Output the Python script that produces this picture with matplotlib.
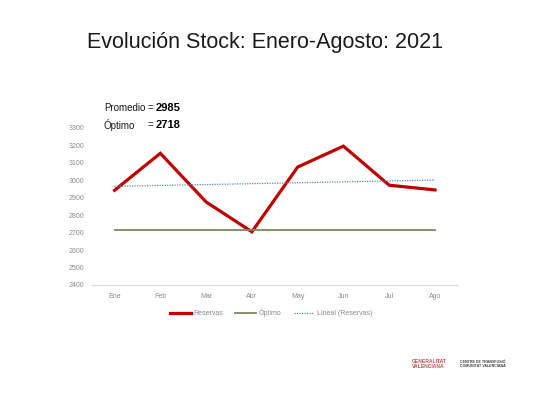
import numpy as np
import matplotlib
matplotlib.use('Agg')
import matplotlib.pyplot as plt

# datos
meses = ['Ene', 'Feb', 'Mar', 'Abr', 'May', 'Jun', 'Jul', 'Ago']
reservas = [2943, 3155, 2876, 2705, 3076, 3196, 2972, 2945]
optimo = 2718
promedio = 2985
yticks = [2400, 2500, 2600, 2700, 2800, 2900, 3000, 3100, 3200, 3300]

plt.rcParams['font.family'] = ['Liberation Sans', 'DejaVu Sans']

fig = plt.figure(figsize=(5.33, 4), dpi=100)
ax = fig.add_axes([0.172, 0.2875, 0.687, 0.3925])

x = np.arange(len(meses))
coef = np.polyfit(x, reservas, 1)  # tendencia lineal
ax.plot(x, reservas, color='#C00000', lw=2.3, label='Reservas', solid_joinstyle='miter')
ax.plot(x, [optimo] * len(x), color='#7A8B5A', lw=1.3, label='Óptimo')
ax.plot(x, np.polyval(coef, x), color='#5B8BC9', lw=0.9, ls=(0, (1, 1)), label='Lineal (Reservas)')

ax.set_xlim(-0.5, len(meses) - 0.5)
ax.set_ylim(2400, 3300)
ax.set_yticks(yticks)
ax.set_xticks(x)
ax.set_xticklabels(meses)
ax.tick_params(length=0, labelsize=5, colors='#8C8C8C', pad=6)
ax.tick_params(axis='y', pad=5)
for s in ['top', 'right', 'left']:
    ax.spines[s].set_visible(False)
ax.spines['bottom'].set_color('#D9D9D9')
ax.spines['bottom'].set_linewidth(0.8)

leg = ax.legend(loc='upper center', bbox_to_anchor=(0.49, -0.11), ncol=3, frameon=False,
                fontsize=5, handlelength=3.0, columnspacing=1.8, handletextpad=0.3)
for t in leg.get_texts():
    t.set_color('#8C8C8C')

fig.text(0.497, 0.893, 'Evolución Stock: Enero-Agosto: 2021', ha='center', va='center',
         fontsize=15.5, color='#1A1A1A')

# recuadro de promedio / optimo
W, H = 533.0, 400.0
fig.text(104 / W, 1 - 108 / H, 'Promedio', fontsize=7, va='center', color='#1A1A1A')
fig.text(148 / W, 1 - 108 / H, '=', fontsize=7, va='center', color='#1A1A1A')
fig.text(156 / W, 1 - 108 / H, '%d' % promedio, fontsize=8, fontweight='bold', va='center')
fig.text(104 / W, 1 - 125 / H, 'Óptimo', fontsize=7, va='center', color='#1A1A1A')
fig.text(148 / W, 1 - 125 / H, '=', fontsize=7, va='center', color='#1A1A1A')
fig.text(156 / W, 1 - 125 / H, '%d' % optimo, fontsize=8, fontweight='bold', va='center')

# logos (texto)
fig.text(412 / W, 1 - 364 / H, 'GENERALITAT\nVALENCIANA', fontsize=3.6, color='#C0504D',
         va='center', linespacing=1.1, fontweight='bold')
fig.text(460 / W, 1 - 364 / H, 'CENTRE DE TRANSFUSIÓ\nCOMUNITAT VALENCIANA', fontsize=2.6,
         color='#404040', va='center', linespacing=1.2, fontweight='bold')

fig.savefig('out.png', dpi=100)
